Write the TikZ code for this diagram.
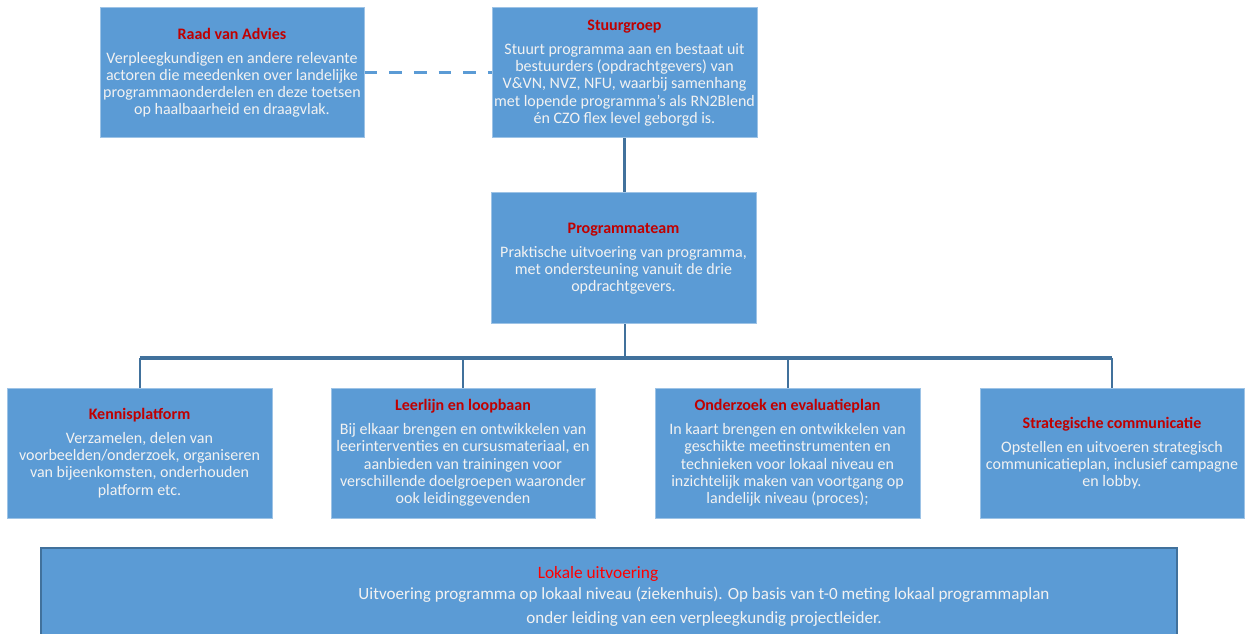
\documentclass[tikz,border=0pt]{standalone}
\usepackage{fontspec}
\setmainfont{Carlito}
\definecolor{boxblue}{HTML}{5B9BD5}
\definecolor{boxedge}{HTML}{9DC3E6}
\definecolor{linkblue}{HTML}{41719C}
\definecolor{titlered}{HTML}{C00000}
\definecolor{brightred}{HTML}{FF0000}
\definecolor{bodytext}{HTML}{F2F2F2}
\tikzset{
  orgbox/.style={rectangle, fill=boxblue, draw=boxedge, line width=0.75pt,
    text=bodytext, align=center, inner sep=0pt,
    font=\fontsize{12}{12.9}\selectfont},
  treelink/.style={draw=linkblue, line width=1.5pt},
  dashlink/.style={draw=boxblue, line width=2.25pt, dash pattern=on 9.5pt off 9pt},
}
\newcommand{\ttl}[1]{\textcolor{titlered}{\textbf{#1}}\\[5pt]}
\begin{document}
\begin{tikzpicture}[x=0.75pt,y=-0.75pt]
\useasboundingbox (0,0) rectangle (1245,634);
% top row
\node[orgbox, minimum width=198pt, minimum height=97.5pt] (raad) at (232,73)
 {\ttl{Raad van Advies}Verpleegkundigen en andere relevante\\actoren die meedenken over landelijke\\programmaonderdelen en deze toetsen\\op haalbaarheid en draagvlak.};
\node[orgbox, minimum width=198.75pt, minimum height=97.5pt] (stuur) at (624.5,73)
 {\ttl{Stuurgroep}Stuurt programma aan en bestaat uit\\bestuurders (opdrachtgevers) van\\V\&VN, NVZ, NFU, waarbij samenhang\\met lopende programma’s als RN2Blend\\én CZO flex level geborgd is.};
\node[orgbox, minimum width=198.75pt, minimum height=98.25pt] (prog) at (623.5,258.5)
 {\ttl{Programmateam}Praktische uitvoering van programma,\\met ondersteuning vanuit de drie\\opdrachtgevers.};
% work streams
\node[orgbox, minimum width=198.75pt, minimum height=97.5pt] (kennis) at (139.5,453)
 {\ttl{Kennisplatform}Verzamelen, delen van\\voorbeelden/onderzoek, organiseren\\van bijeenkomsten, onderhouden\\platform etc.};
\node[orgbox, minimum width=198pt, minimum height=97.5pt] (leer) at (463,453)
 {\ttl{Leerlijn en loopbaan}Bij elkaar brengen en ontwikkelen van\\leerinterventies en cursusmateriaal, en\\aanbieden van trainingen voor\\verschillende doelgroepen waaronder\\ook leidinggevenden};
\node[orgbox, minimum width=198.75pt, minimum height=97.5pt] (onder) at (787.5,453)
 {\ttl{Onderzoek en evaluatieplan}In kaart brengen en ontwikkelen van\\geschikte meetinstrumenten en\\technieken voor lokaal niveau en\\inzichtelijk maken van voortgang op\\landelijk niveau (proces);};
\node[orgbox, minimum width=198pt, minimum height=97.5pt] (strat) at (1112,453)
 {\ttl{Strategische communicatie}Opstellen en uitvoeren strategisch\\communicatieplan, inclusief campagne\\en lobby.};
% local execution
\node[rectangle, fill=boxblue, draw=linkblue, line width=1.5pt, minimum width=852pt, minimum height=72pt, inner sep=0pt] (lokaal) at (609,596) {};
\node[text=brightred, font=\fontsize{13}{15}\selectfont, inner sep=0pt] (lokT) at (598,574) {Lokale uitvoering};
\node[text=bodytext, align=center, font=\fontsize{12.8}{18}\selectfont, inner sep=0pt] (lokB) at (704,607)
 {Uitvoering programma op lokaal niveau (ziekenhuis). Op basis van t-0 meting lokaal programmaplan\\onder leiding van een verpleegkundig projectleider.};
% connectors
\draw[dashlink] (raad.east) -- (stuur.west);
\draw[treelink, line width=2.2pt] (stuur.south) -- (stuur.south |- prog.north);
\coordinate (bar) at (625,358);
\draw[treelink, line width=1.8pt] (prog.south -| bar) -- (bar);
\draw[treelink, line width=2.5pt] (kennis.north |- bar) -- (strat.north |- bar);
\draw[treelink] (kennis.north |- bar) -- (kennis.north);
\draw[treelink] (leer.north |- bar) -- (leer.north);
\draw[treelink] (onder.north |- bar) -- (onder.north);
\draw[treelink] (strat.north |- bar) -- (strat.north);
\end{tikzpicture}
\end{document}
